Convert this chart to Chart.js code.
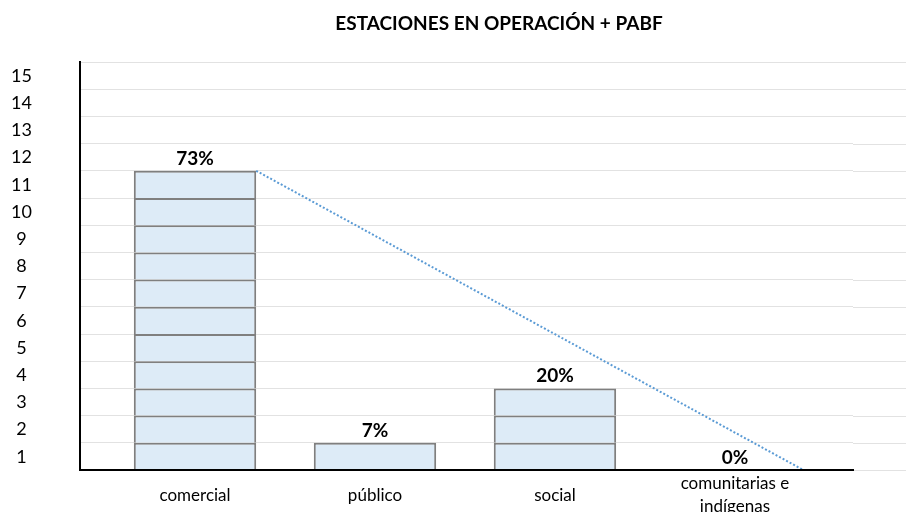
<!DOCTYPE html>
<html>
<head>
<meta charset="utf-8">
<script src="https://cdn.jsdelivr.net/npm/chart.js@4.4.1/dist/chart.umd.min.js"></script>
<style>
  html, body { margin: 0; padding: 0; background: #fff; }
  canvas { display: block; }
</style>
</head>
<body>
<canvas id="chart" width="906" height="512"></canvas>
<script>
const chartTitle = 'ESTACIONES EN OPERACIÓN + PABF';
const categories = ['comercial', 'público', 'social', ['comunitarias e', 'indígenas']];
const stationCounts = [11, 1, 3, 0];
const percentLabels = ['73%', '7%', '20%', '0%'];
const yTickLabels = ['1', '2', '3', '4', '5', '6', '7', '8', '9', '10', '11', '12', '13', '14', '15'];
const trendX = [0.34, 3.38];
const trendY = [11, 0];

// one dataset per unit block so every station shows as its own box
const maxCount = Math.max(...stationCounts);
const blockSets = [];
for (let k = 1; k <= maxCount; k++) {
    blockSets.push({
        type: 'bar',
        data: stationCounts.map((c, i) => c >= k ? {x: i, y: 1} : null).filter(p => p),
        backgroundColor: '#ddebf7',
        borderColor: '#7f7f7f',
        borderWidth: 2,
        barPercentage: 0.85,
        categoryPercentage: 0.8,
        order: 1
    });
}

const trendSet = {
    type: 'line',
    data: trendX.map((x, i) => ({x: x, y: trendY[i]})),
    borderColor: '#5b9bd5',
    borderWidth: 2,
    borderDash: [2, 2],
    pointRadius: 0,
    fill: false,
    order: 0
};

const extras = {
    id: 'extras',
    beforeDatasetsDraw(chart) {
        // gridlines run on past the end of the category axis
        const {ctx, chartArea, scales: {y}} = chart;
        ctx.save();
        ctx.strokeStyle = '#e2e2e2';
        ctx.lineWidth = 1;
        for (let v = 0; v <= 15; v++) {
            const py = Math.round(y.getPixelForValue(v)) + 0.5;
            ctx.beginPath();
            ctx.moveTo(chartArea.right, py);
            ctx.lineTo(chart.width, py);
            ctx.stroke();
        }
        ctx.restore();
    },
    afterDatasetsDraw(chart) {
        const {ctx, scales: {x, y}} = chart;
        ctx.save();
        ctx.fillStyle = '#000';
        ctx.textAlign = 'center';
        ctx.textBaseline = 'alphabetic';
        ctx.font = 'bold 19px Lato';
        stationCounts.forEach((c, i) => {
            ctx.fillText(percentLabels[i], x.getPixelForValue(i), y.getPixelForValue(c) - 6);
        });
        ctx.font = 'bold 19px Lato';
        ctx.fillText(chartTitle, 499, 30);
        ctx.restore();
    }
};

new Chart(document.getElementById('chart'), {
    data: {
        datasets: [...blockSets, trendSet]
    },
    options: {
        responsive: false,
        animation: false,
        layout: {
            padding: {top: 62, right: 53, left: 0, bottom: 0}
        },
        plugins: {
            legend: {display: false},
            tooltip: {enabled: false},
            title: {display: false}
        },
        scales: {
            x: {
                type: 'linear',
                min: -0.639,
                max: 3.656,
                bounds: 'data',
                offset: false,
                stacked: true,
                afterBuildTicks: (scale) => {
                    scale.ticks = categories.map((c, i) => ({value: i}));
                },
                afterFit: (scale) => { scale.height = 42; },
                grid: {display: false, drawTicks: false, offset: false},
                border: {display: true, color: '#000', width: 2, z: 1},
                ticks: {
                    autoSkip: false,
                    maxRotation: 0,
                    padding: 14,
                    crossAlign: 'center',
                    color: '#000',
                    font: {family: 'Lato', size: 17, lineHeight: 1.35},
                    callback: (value, index) => categories[index]
                }
            },
            y: {
                min: 0,
                max: 15,
                stacked: true,
                afterFit: (scale) => { scale.width = 80; },
                grid: {
                    color: '#e2e2e2',
                    lineWidth: 1,
                    drawTicks: true,
                    tickLength: 46,
                    tickColor: 'rgba(0,0,0,0)'
                },
                border: {display: true, color: '#000', width: 2, z: 1},
                ticks: {
                    stepSize: 1,
                    padding: 2,
                    crossAlign: 'center',
                    labelOffset: 14,
                    color: '#000',
                    font: {family: 'Lato', size: 18},
                    callback: (value) => value === 0 ? '' : yTickLabels[value - 1]
                }
            }
        }
    },
    plugins: [extras]
});
</script>
</body>
</html>
